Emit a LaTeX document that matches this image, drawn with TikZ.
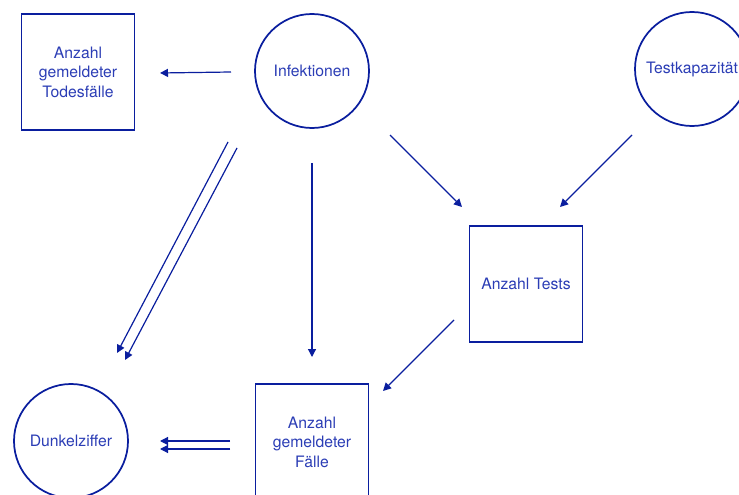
\documentclass[tikz,border=0pt]{standalone}
\usepackage{fontspec}
\setmainfont{TeX Gyre Heros}
\usepackage{xcolor}
\usetikzlibrary{arrows.meta,positioning}
\definecolor{bluex}{HTML}{0A1E9E}
\definecolor{textx}{HTML}{2B3DB5}
\tikzset{
  ar/.style={-{Triangle[length=6pt,width=6pt]},line width=0.9pt,bluex},
  box/.style={draw=bluex,line width=1.3pt,minimum width=84.75pt,minimum height=87pt,inner sep=0pt,align=center,text=textx,font=\fontsize{11.8}{14.6}\selectfont},
  circ/.style={draw=bluex,circle,line width=1.3pt,minimum size=85.5pt,inner sep=0pt,align=center,text=textx,font=\fontsize{11.8}{14.6}\selectfont}
}

\begin{document}
\begin{tikzpicture}[x=0.75pt,y=-0.75pt]
\useasboundingbox (0,0) rectangle (739,495);
\clip (0,0) rectangle (739,495);
% nodes
\node[box]  (tod)    at (78,72)   {Anzahl\\gemeldeter\\Todesfälle};
\node[circ] (inf)    at (312,71)  {Infektionen};
\node[circ] (tk)     at (692,69)  {Testkapazität};
\node[box]  (tests)  at (526,284) {Anzahl Tests};
\node[box]  (faelle) at (312,442) {Anzahl\\gemeldeter\\Fälle};
\node[circ] (dz)     at (71,441)  {Dunkelziffer};
% arrows
\draw[ar] ([shift={(-81,1)}]inf.center) -- ([shift={(82,1)}]tod.center);
\draw[ar] ([shift={(-84,71)}]inf.center) -- ([shift={(46,-88)}]dz.center);
\draw[ar] ([shift={(-75,77)}]inf.center) -- ([shift={(54,-81)}]dz.center);
\draw[ar] ([shift={(0,92)}]inf.center) -- ([shift={(0,-85)}]faelle.center);
\draw[ar] ([shift={(78,64)}]inf.center) -- ([shift={(-64,-77)}]tests.center);
\draw[ar] ([shift={(-60,66)}]tk.center) -- ([shift={(34,-77)}]tests.center);
\draw[ar] ([shift={(-72,36)}]tests.center) -- ([shift={(71,-51)}]faelle.center);
\draw[ar] ([shift={(-82,-1)}]faelle.center) -- ([shift={(89,0)}]dz.center);
\draw[ar] ([shift={(-82,7)}]faelle.center) -- ([shift={(89,8)}]dz.center);
\end{tikzpicture}
\end{document}
